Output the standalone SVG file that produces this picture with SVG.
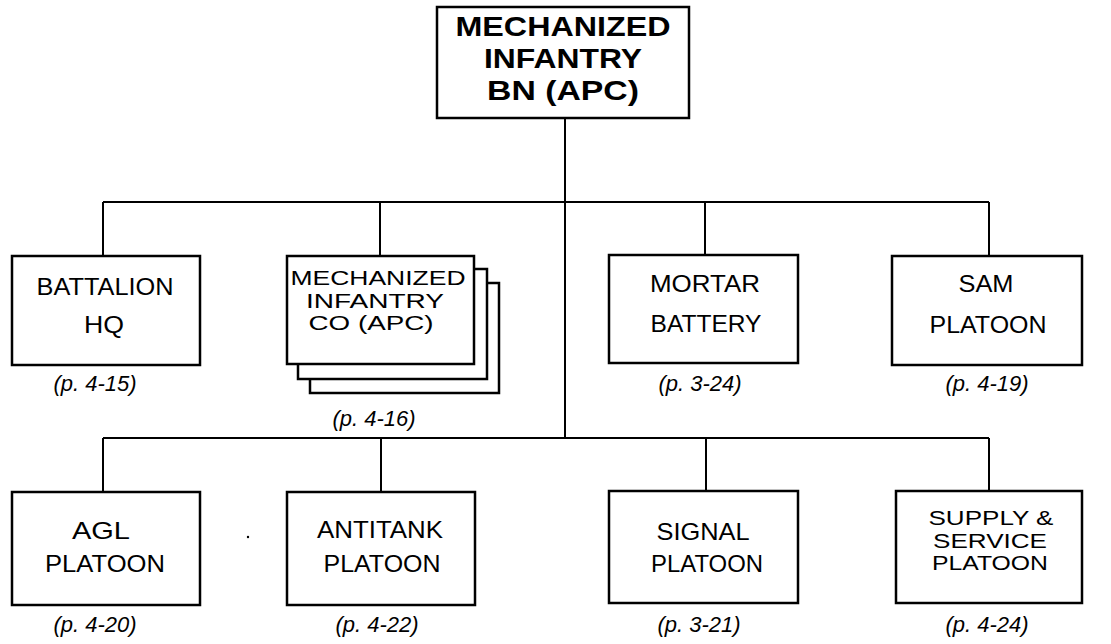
<svg xmlns="http://www.w3.org/2000/svg" width="1111" height="644" viewBox="0 0 1111 644">
<style>
.box{fill:#fff;stroke:#000;stroke-width:2.5}
.con{fill:none;stroke:#000;stroke-width:2}
.t{font-family:"Liberation Sans",Arial,sans-serif;font-size:24px;text-anchor:middle;fill:#000}
.s{font-size:21px}
.tb{font-family:"Liberation Sans",Arial,sans-serif;font-size:28px;font-weight:bold;text-anchor:middle;fill:#000}
.p{font-family:"Liberation Sans",Arial,sans-serif;font-size:22px;font-style:italic;text-anchor:middle;fill:#000}
</style>
<rect width="1111" height="644" fill="#fff"/>
<g id="connectors" class="con">
<path d="M565 118V438"/>
<path d="M103 202H989M103 202V256M380 202V256M705 202V255M989 202V256"/>
<path d="M103 438H989M103 438V492M381 438V492M706 438V491M989 438V491"/>
</g>
<g id="bn">
<rect class="box" x="437" y="7" width="252" height="111"/>
<text class="tb" x="563" y="36" textLength="215" lengthAdjust="spacingAndGlyphs">MECHANIZED</text>
<text class="tb" x="563" y="68" textLength="158" lengthAdjust="spacingAndGlyphs">INFANTRY</text>
<text class="tb" x="563" y="100" textLength="152" lengthAdjust="spacingAndGlyphs">BN (APC)</text>
</g>
<g id="bhq">
<rect class="box" x="12" y="256" width="188" height="109"/>
<text class="t" x="105" y="295" textLength="137" lengthAdjust="spacingAndGlyphs">BATTALION</text>
<text class="t" x="104" y="333" textLength="40" lengthAdjust="spacingAndGlyphs">HQ</text>
<text class="p" x="95" y="391">(p. 4-15)</text>
</g>
<g id="mechco">
<rect class="box" x="310" y="283" width="189" height="110"/>
<rect class="box" x="298" y="269" width="189" height="110"/>
<rect class="box" x="287" y="256" width="187" height="108"/>
<text class="t s" x="378" y="285" textLength="175" lengthAdjust="spacingAndGlyphs">MECHANIZED</text>
<text class="t s" x="375" y="307.5" textLength="138" lengthAdjust="spacingAndGlyphs">INFANTRY</text>
<text class="t s" x="371" y="330" textLength="125" lengthAdjust="spacingAndGlyphs">CO (APC)</text>
<text class="p" x="374" y="426">(p. 4-16)</text>
</g>
<g id="mortar">
<rect class="box" x="609" y="255" width="189" height="108"/>
<text class="t" x="705" y="292" textLength="110" lengthAdjust="spacingAndGlyphs">MORTAR</text>
<text class="t" x="706" y="332" textLength="111" lengthAdjust="spacingAndGlyphs">BATTERY</text>
<text class="p" x="700" y="391">(p. 3-24)</text>
</g>
<g id="sam">
<rect class="box" x="892" y="256" width="190" height="109"/>
<text class="t" x="986" y="292" textLength="55" lengthAdjust="spacingAndGlyphs">SAM</text>
<text class="t" x="988" y="333" textLength="117" lengthAdjust="spacingAndGlyphs">PLATOON</text>
<text class="p" x="987" y="391">(p. 4-19)</text>
</g>
<g id="agl">
<rect class="box" x="12" y="492" width="188" height="113"/>
<text class="t" x="101" y="539" textLength="58" lengthAdjust="spacingAndGlyphs">AGL</text>
<text class="t" x="105" y="572" textLength="120" lengthAdjust="spacingAndGlyphs">PLATOON</text>
<text class="p" x="95" y="632">(p. 4-20)</text>
</g>
<g id="antitank">
<rect class="box" x="287" y="492" width="188" height="113"/>
<text class="t" x="380" y="538" textLength="126" lengthAdjust="spacingAndGlyphs">ANTITANK</text>
<text class="t" x="382" y="572" textLength="117" lengthAdjust="spacingAndGlyphs">PLATOON</text>
<text class="p" x="377" y="632">(p. 4-22)</text>
</g>
<g id="signal">
<rect class="box" x="609" y="491" width="189" height="112"/>
<text class="t" x="703" y="540" textLength="93" lengthAdjust="spacingAndGlyphs">SIGNAL</text>
<text class="t" x="707" y="572" textLength="112" lengthAdjust="spacingAndGlyphs">PLATOON</text>
<text class="p" x="699" y="632">(p. 3-21)</text>
</g>
<g id="supply">
<rect class="box" x="896" y="491" width="186" height="112"/>
<text class="t s" x="991" y="525" textLength="125" lengthAdjust="spacingAndGlyphs">SUPPLY &amp;</text>
<text class="t s" x="990" y="547.5" textLength="114" lengthAdjust="spacingAndGlyphs">SERVICE</text>
<text class="t s" x="990" y="570" textLength="116" lengthAdjust="spacingAndGlyphs">PLATOON</text>
<text class="p" x="987" y="632">(p. 4-24)</text>
</g>
<circle cx="248" cy="537" r="1.2" fill="#000"/>
</svg>
